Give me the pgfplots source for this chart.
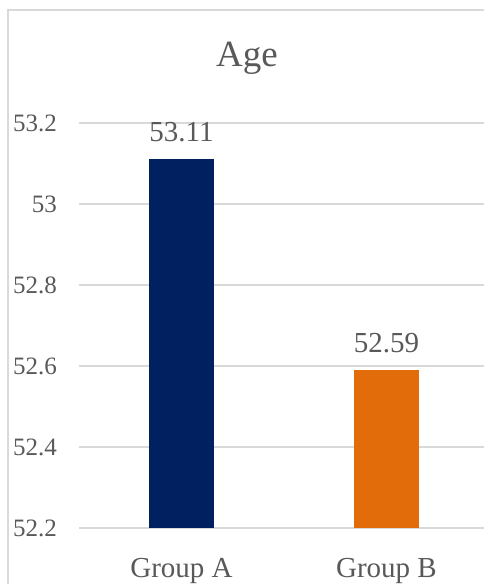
\documentclass[border=0pt]{standalone}
\usepackage{pgfplots}
\pgfplotsset{compat=1.18}
\usepackage{fontspec}
\setmainfont{Liberation Serif}
\definecolor{navy}{HTML}{002060}
\definecolor{orng}{HTML}{E36C0A}
\definecolor{gridc}{HTML}{D9D9D9}
\definecolor{txt}{HTML}{595959}
\begin{document}
\begin{tikzpicture}[x=1pt,y=1pt]
\useasboundingbox (0,0) rectangle (484,584);
\clip (0,0) rectangle (484,584);
\fill[white] (0,0) rectangle (484,584);
\draw[gridc, line width=1.5pt] (8,574) rectangle (520,-20);
\node[anchor=base, text=txt, font=\fontsize{37}{44}\selectfont, inner sep=0pt] at (247,517) {Age};
\begin{axis}[
  at={(79pt,56pt)}, anchor=south west,
  scale only axis, width=410pt, height=405pt,
  xmin=-0.5, xmax=1.5, ymin=52.2, ymax=53.2,
  axis line style={draw=none},
  ybar, bar width=65pt, bar shift=0pt,
  ymajorgrids, grid style={gridc, line width=1.2pt},
  ytick={52.2,52.4,52.6,52.8,53,53.2},
  xtick={0,1}, xticklabels={Group A, Group B},
  major tick length=0pt,
  /pgf/number format/assume math mode=true,
  /pgf/number format/fixed,
  yticklabel style={anchor=east, inner sep=0pt, xshift=-22pt, text=txt, font=\fontsize{25}{30}\selectfont,
     /pgf/number format/precision=1},
  xticklabel style={anchor=base, inner sep=0pt, yshift=-49pt, text=txt, font=\fontsize{29}{34}\selectfont},
  nodes near coords,
  nodes near coords style={anchor=base, inner sep=0pt, yshift=18pt, text=txt, font=\fontsize{29}{34}\selectfont,
     /pgf/number format/fixed, /pgf/number format/precision=2, /pgf/number format/fixed zerofill},
  clip=false,
]
\addplot[fill=navy, draw=none] coordinates {(0,53.11)};
\addplot[fill=orng, draw=none] coordinates {(1,52.59)};
\end{axis}
\end{tikzpicture}
\end{document}
